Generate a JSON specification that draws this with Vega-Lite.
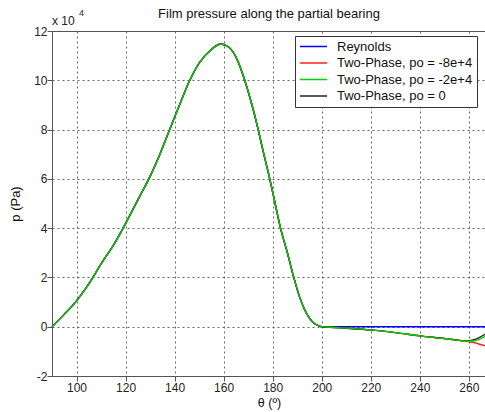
{
  "$schema": "https://vega.github.io/schema/vega-lite/v6.json",
  "width": 434,
  "height": 345,
  "autosize": {"type": "none"},
  "padding": {"left": 52, "top": 31, "right": 0, "bottom": 36},
  "background": "white",
  "config": {
    "font": "Liberation Sans",
    "view": {"stroke": "#555", "strokeWidth": 1},
    "axis": {
      "domainColor": "#555",
      "tickColor": "#555",
      "tickSize": 5,
      "gridColor": "#555",
      "gridDash": [2, 3],
      "gridOpacity": 0.9,
      "labelFontSize": 12,
      "labelColor": "#222",
      "titleFontSize": 12.5,
      "titleFontWeight": "normal",
      "titleColor": "#111"
    }
  },
  "title": {"text": "Film pressure along the partial bearing", "fontSize": 13, "fontWeight": "normal", "color": "#111", "offset": -12, "anchor": "middle"},
  "data": {"values": [
    {"theta": 90, "Reynolds": 0, "Two-Phase, po = -8e+4": 0, "Two-Phase, po = -2e+4": 0, "Two-Phase, po = 0": 0},
    {"theta": 95, "Reynolds": 5000, "Two-Phase, po = -8e+4": 5000, "Two-Phase, po = -2e+4": 5000, "Two-Phase, po = 0": 5000},
    {"theta": 100, "Reynolds": 10500, "Two-Phase, po = -8e+4": 10500, "Two-Phase, po = -2e+4": 10500, "Two-Phase, po = 0": 10500},
    {"theta": 106.7, "Reynolds": 20000, "Two-Phase, po = -8e+4": 20000, "Two-Phase, po = -2e+4": 20000, "Two-Phase, po = 0": 20000},
    {"theta": 110, "Reynolds": 25500, "Two-Phase, po = -8e+4": 25500, "Two-Phase, po = -2e+4": 25500, "Two-Phase, po = 0": 25500},
    {"theta": 115, "Reynolds": 33000, "Two-Phase, po = -8e+4": 33000, "Two-Phase, po = -2e+4": 33000, "Two-Phase, po = 0": 33000},
    {"theta": 119, "Reynolds": 40000, "Two-Phase, po = -8e+4": 40000, "Two-Phase, po = -2e+4": 40000, "Two-Phase, po = 0": 40000},
    {"theta": 125, "Reynolds": 51500, "Two-Phase, po = -8e+4": 51500, "Two-Phase, po = -2e+4": 51500, "Two-Phase, po = 0": 51500},
    {"theta": 130, "Reynolds": 61000, "Two-Phase, po = -8e+4": 61000, "Two-Phase, po = -2e+4": 61000, "Two-Phase, po = 0": 61000},
    {"theta": 134, "Reynolds": 70000, "Two-Phase, po = -8e+4": 70000, "Two-Phase, po = -2e+4": 70000, "Two-Phase, po = 0": 70000},
    {"theta": 138, "Reynolds": 80000, "Two-Phase, po = -8e+4": 80000, "Two-Phase, po = -2e+4": 80000, "Two-Phase, po = 0": 80000},
    {"theta": 142, "Reynolds": 90000, "Two-Phase, po = -8e+4": 90000, "Two-Phase, po = -2e+4": 90000, "Two-Phase, po = 0": 90000},
    {"theta": 146.2, "Reynolds": 100000, "Two-Phase, po = -8e+4": 100000, "Two-Phase, po = -2e+4": 100000, "Two-Phase, po = 0": 100000},
    {"theta": 150, "Reynolds": 107000, "Two-Phase, po = -8e+4": 107000, "Two-Phase, po = -2e+4": 107000, "Two-Phase, po = 0": 107000},
    {"theta": 155, "Reynolds": 112500, "Two-Phase, po = -8e+4": 112500, "Two-Phase, po = -2e+4": 112500, "Two-Phase, po = 0": 112500},
    {"theta": 158.8, "Reynolds": 114700, "Two-Phase, po = -8e+4": 114700, "Two-Phase, po = -2e+4": 114700, "Two-Phase, po = 0": 114700},
    {"theta": 162, "Reynolds": 113500, "Two-Phase, po = -8e+4": 113500, "Two-Phase, po = -2e+4": 113500, "Two-Phase, po = 0": 113500},
    {"theta": 165, "Reynolds": 109500, "Two-Phase, po = -8e+4": 109500, "Two-Phase, po = -2e+4": 109500, "Two-Phase, po = 0": 109500},
    {"theta": 168.6, "Reynolds": 100000, "Two-Phase, po = -8e+4": 100000, "Two-Phase, po = -2e+4": 100000, "Two-Phase, po = 0": 100000},
    {"theta": 171, "Reynolds": 92000, "Two-Phase, po = -8e+4": 92000, "Two-Phase, po = -2e+4": 92000, "Two-Phase, po = 0": 92000},
    {"theta": 174.1, "Reynolds": 80000, "Two-Phase, po = -8e+4": 80000, "Two-Phase, po = -2e+4": 80000, "Two-Phase, po = 0": 80000},
    {"theta": 175.7, "Reynolds": 73000, "Two-Phase, po = -8e+4": 73000, "Two-Phase, po = -2e+4": 73000, "Two-Phase, po = 0": 73000},
    {"theta": 178.8, "Reynolds": 60000, "Two-Phase, po = -8e+4": 60000, "Two-Phase, po = -2e+4": 60000, "Two-Phase, po = 0": 60000},
    {"theta": 181, "Reynolds": 50000, "Two-Phase, po = -8e+4": 50000, "Two-Phase, po = -2e+4": 50000, "Two-Phase, po = 0": 50000},
    {"theta": 183.2, "Reynolds": 40000, "Two-Phase, po = -8e+4": 40000, "Two-Phase, po = -2e+4": 40000, "Two-Phase, po = 0": 40000},
    {"theta": 186, "Reynolds": 30000, "Two-Phase, po = -8e+4": 30000, "Two-Phase, po = -2e+4": 30000, "Two-Phase, po = 0": 30000},
    {"theta": 188.6, "Reynolds": 20000, "Two-Phase, po = -8e+4": 20000, "Two-Phase, po = -2e+4": 20000, "Two-Phase, po = 0": 20000},
    {"theta": 191, "Reynolds": 12000, "Two-Phase, po = -8e+4": 12000, "Two-Phase, po = -2e+4": 12000, "Two-Phase, po = 0": 12000},
    {"theta": 193, "Reynolds": 7000, "Two-Phase, po = -8e+4": 7000, "Two-Phase, po = -2e+4": 7000, "Two-Phase, po = 0": 7000},
    {"theta": 195, "Reynolds": 3500, "Two-Phase, po = -8e+4": 3500, "Two-Phase, po = -2e+4": 3500, "Two-Phase, po = 0": 3500},
    {"theta": 197, "Reynolds": 1300, "Two-Phase, po = -8e+4": 1300, "Two-Phase, po = -2e+4": 1300, "Two-Phase, po = 0": 1300},
    {"theta": 199, "Reynolds": 300, "Two-Phase, po = -8e+4": 300, "Two-Phase, po = -2e+4": 300, "Two-Phase, po = 0": 300},
    {"theta": 200, "Reynolds": 0, "Two-Phase, po = -8e+4": 0, "Two-Phase, po = -2e+4": 0, "Two-Phase, po = 0": 0},
    {"theta": 205, "Reynolds": 0, "Two-Phase, po = -8e+4": -300, "Two-Phase, po = -2e+4": -300, "Two-Phase, po = 0": -300},
    {"theta": 210, "Reynolds": 0, "Two-Phase, po = -8e+4": -600, "Two-Phase, po = -2e+4": -600, "Two-Phase, po = 0": -600},
    {"theta": 220, "Reynolds": 0, "Two-Phase, po = -8e+4": -1300, "Two-Phase, po = -2e+4": -1300, "Two-Phase, po = 0": -1300},
    {"theta": 230, "Reynolds": 0, "Two-Phase, po = -8e+4": -2400, "Two-Phase, po = -2e+4": -2400, "Two-Phase, po = 0": -2400},
    {"theta": 240, "Reynolds": 0, "Two-Phase, po = -8e+4": -3700, "Two-Phase, po = -2e+4": -3700, "Two-Phase, po = 0": -3700},
    {"theta": 250, "Reynolds": 0, "Two-Phase, po = -8e+4": -4800, "Two-Phase, po = -2e+4": -4800, "Two-Phase, po = 0": -4800},
    {"theta": 255, "Reynolds": 0, "Two-Phase, po = -8e+4": -5400, "Two-Phase, po = -2e+4": -5400, "Two-Phase, po = 0": -5400},
    {"theta": 258, "Reynolds": 0, "Two-Phase, po = -8e+4": -5800, "Two-Phase, po = -2e+4": -5800, "Two-Phase, po = 0": -5750},
    {"theta": 260, "Reynolds": 0, "Two-Phase, po = -8e+4": -6100, "Two-Phase, po = -2e+4": -5900, "Two-Phase, po = 0": -5700},
    {"theta": 262, "Reynolds": 0, "Two-Phase, po = -8e+4": -6400, "Two-Phase, po = -2e+4": -5700, "Two-Phase, po = 0": -5300},
    {"theta": 264, "Reynolds": 0, "Two-Phase, po = -8e+4": -7000, "Two-Phase, po = -2e+4": -5200, "Two-Phase, po = 0": -4500},
    {"theta": 267, "Reynolds": 0, "Two-Phase, po = -8e+4": -7800, "Two-Phase, po = -2e+4": -3800, "Two-Phase, po = 0": -2800}
  ]},
  "transform": [
    {"fold": ["Reynolds", "Two-Phase, po = -8e+4", "Two-Phase, po = -2e+4", "Two-Phase, po = 0"], "as": ["series", "p"]}
  ],
  "layer": [
    {
      "transform": [{"filter": "datum.series === 'Reynolds'"}],
      "mark": {"type": "line", "strokeWidth": 1.4, "interpolate": "monotone"},
      "encoding": {
        "x": {"field": "theta", "type": "quantitative", "scale": {"domain": [90, 267], "nice": false, "zero": false},
              "axis": {"values": [100, 120, 140, 160, 180, 200, 220, 240, 260], "title": "θ (º)", "grid": true, "labelPadding": 1, "titlePadding": 3}},
        "y": {"field": "p", "type": "quantitative", "scale": {"domain": [-20000, 120000], "nice": false},
              "axis": {"values": [-20000, 0, 20000, 40000, 60000, 80000, 100000, 120000], "labelExpr": "datum.value/10000", "title": "p (Pa)", "grid": true, "labelPadding": 0, "titlePadding": 11, "titleFontSize": 13}},
        "color": {"field": "series", "type": "nominal",
          "scale": {"domain": ["Reynolds", "Two-Phase, po = -8e+4", "Two-Phase, po = -2e+4", "Two-Phase, po = 0"], "range": ["#0000ff", "#ff2020", "#00d000", "#222222"]},
          "legend": {"orient": "none", "legendX": 243, "legendY": 5, "title": null, "symbolType": "stroke", "symbolSize": 729, "symbolStrokeWidth": 1.5, "strokeColor": "#333", "fillColor": "white", "padding": 4, "labelFontSize": 13, "labelColor": "#111", "clipHeight": 13, "rowPadding": 2.5, "labelOffset": 9, "labelLimit": 300}}
      }
    },
    {
      "transform": [{"filter": "datum.series === 'Two-Phase, po = -8e+4'"}],
      "mark": {"type": "line", "strokeWidth": 1.4, "interpolate": "monotone"},
      "encoding": {
        "x": {"field": "theta", "type": "quantitative"},
        "y": {"field": "p", "type": "quantitative"},
        "color": {"field": "series", "type": "nominal"}
      }
    },
    {
      "transform": [{"filter": "datum.series === 'Two-Phase, po = 0'"}],
      "mark": {"type": "line", "strokeWidth": 1.4, "interpolate": "monotone"},
      "encoding": {
        "x": {"field": "theta", "type": "quantitative"},
        "y": {"field": "p", "type": "quantitative"},
        "color": {"field": "series", "type": "nominal"}
      }
    },
    {
      "transform": [{"filter": "datum.series === 'Two-Phase, po = -2e+4'"}],
      "mark": {"type": "line", "strokeWidth": 1.3, "interpolate": "monotone"},
      "encoding": {
        "x": {"field": "theta", "type": "quantitative"},
        "y": {"field": "p", "type": "quantitative"},
        "color": {"field": "series", "type": "nominal"}
      }
    },
    {
      "data": {"values": [{}]},
      "mark": {"type": "text", "align": "left", "baseline": "alphabetic", "dx": 0, "dy": -6, "fontSize": 12, "color": "#222"},
      "encoding": {"x": {"datum": 90, "type": "quantitative"}, "y": {"datum": 120000, "type": "quantitative"}, "text": {"value": "x 10"}}
    },
    {
      "data": {"values": [{}]},
      "mark": {"type": "text", "align": "left", "baseline": "alphabetic", "dx": 27, "dy": -15, "fontSize": 9, "color": "#222"},
      "encoding": {"x": {"datum": 90, "type": "quantitative"}, "y": {"datum": 120000, "type": "quantitative"}, "text": {"value": "4"}}
    }
  ]
}
